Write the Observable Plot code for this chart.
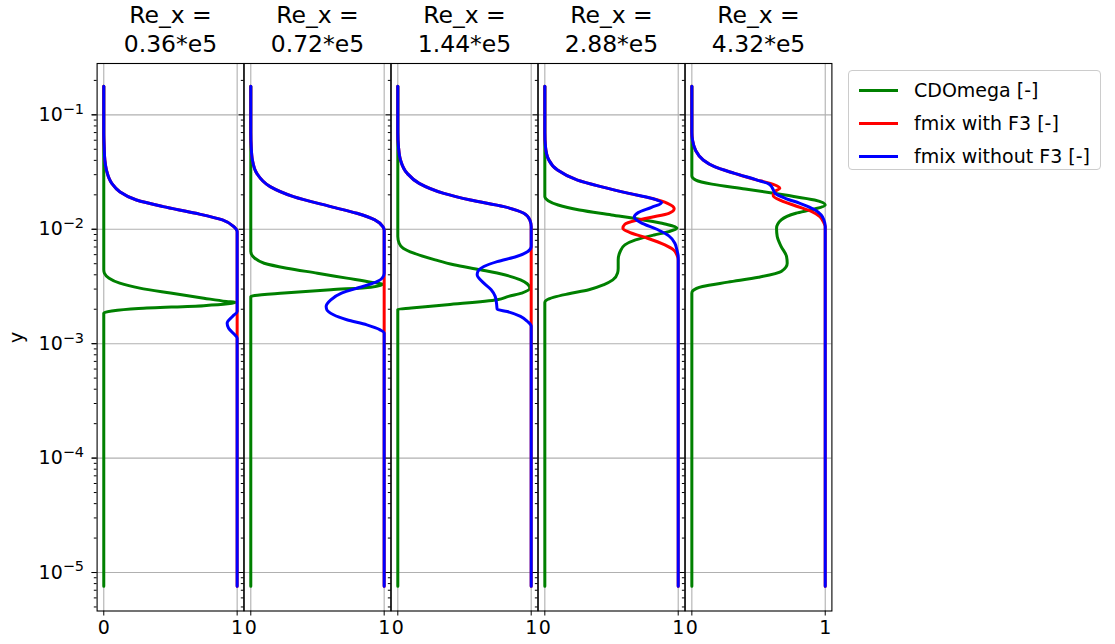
<!DOCTYPE html>
<html><head><meta charset="utf-8">
<script src="https://cdn.jsdelivr.net/npm/d3@7"></script>
<script src="https://cdn.jsdelivr.net/npm/@observablehq/plot@0.6"></script>
<style>
body{margin:0;background:#fff;font-family:"DejaVu Sans",sans-serif;}
#wrap{position:relative;width:1115px;height:644px;overflow:hidden;}
#legend{position:absolute;left:848px;top:70px;width:251px;height:98px;border:1px solid #cccccc;border-radius:4px;background:rgba(255,255,255,0.8);font-size:19px;color:#000;}
.item{position:absolute;left:10px;height:24px;display:flex;align-items:center;white-space:nowrap;}
.swatch{width:39px;height:0;border-top:3px solid;margin-right:16px;}
</style></head><body><div id="wrap"><div id="legend"></div></div>
<script>
// Panels (facets) and series
const panels = ["0.36*e5", "0.72*e5", "1.44*e5", "2.88*e5", "4.32*e5"];
const seriesNames = ["CDOmega [-]", "fmix with F3 [-]", "fmix without F3 [-]"];
const seriesColors = ["green", "red", "blue"];
const xTicks = [0, 1];
const yMajor = [1e-5, 1e-4, 1e-3, 1e-2, 1e-1];
const yMinor = [5e-6, 6e-6, 7e-6, 8e-6, 9e-6,
  2e-5, 3e-5, 4e-5, 5e-5, 6e-5, 7e-5, 8e-5, 9e-5,
  2e-4, 3e-4, 4e-4, 5e-4, 6e-4, 7e-4, 8e-4, 9e-4,
  2e-3, 3e-3, 4e-3, 5e-3, 6e-3, 7e-3, 8e-3, 9e-3,
  2e-2, 3e-2, 4e-2, 5e-2, 6e-2, 7e-2, 8e-2, 9e-2, 2e-1];

// Profiles as [y, value] pairs
// Re_x = 0.36e5
const cd1 = [[0.178,0],[0.00442,0],[0.00413,0.005],[0.00374,0.04],[0.00338,0.12],[0.00306,0.27],[0.00277,0.5],[0.0025,0.75],[0.00234,0.92],[0.00229,0.99],[0.00223,0.93],[0.00215,0.75],[0.00203,0.26],[0.00193,0.06],[0.00185,0],[7.6e-6,0]];
const fw1 = [[0.178,0],[0.07,0],[0.0526,0.003],[0.0403,0.008],[0.0329,0.02],[0.0252,0.06],[0.0213,0.12],[0.018,0.245],[0.01577,0.445],[0.01379,0.69],[0.01206,0.89],[0.01055,0.975],[0.00954,1],[7.6e-6,1]];
const fo1 = [[0.178,0],[0.07,0],[0.0526,0.003],[0.0403,0.008],[0.0329,0.02],[0.0252,0.06],[0.0213,0.12],[0.018,0.245],[0.01577,0.445],[0.01379,0.69],[0.01206,0.89],[0.01055,0.975],[0.00954,1],[0.00191,1],[0.00173,0.965],[0.00151,0.925],[0.00137,0.935],[0.00122,0.975],[0.00112,1],[7.6e-6,1]];
// Re_x = 0.72e5
const cd2 = [[0.178,0],[0.00639,0],[0.00558,0.03],[0.00505,0.1],[0.00457,0.27],[0.00413,0.5],[0.00374,0.72],[0.00345,0.9],[0.0033,0.99],[0.00312,0.9],[0.00296,0.6],[0.00277,0.25],[0.00264,0.03],[0.00259,0],[7.6e-6,0]];
const fw2 = [[0.178,0],[0.07,0],[0.0526,0.003],[0.0403,0.012],[0.0308,0.045],[0.0236,0.145],[0.0193,0.32],[0.01577,0.6],[0.01379,0.795],[0.01206,0.93],[0.01055,0.99],[0.00987,1],[7.6e-6,1]];
const fo2 = [[0.178,0],[0.07,0],[0.0526,0.003],[0.0403,0.012],[0.0308,0.045],[0.0236,0.145],[0.0193,0.32],[0.01577,0.6],[0.01379,0.795],[0.01206,0.93],[0.01055,0.99],[0.00987,1],[0.00413,1],[0.00374,0.985],[0.0035,0.95],[0.00316,0.84],[0.00277,0.68],[0.00242,0.6],[0.00212,0.565],[0.00198,0.57],[0.00179,0.62],[0.00162,0.72],[0.00146,0.87],[0.00132,0.97],[0.00124,1],[7.6e-6,1]];
// Re_x = 1.44e5
const cd3 = [[0.178,0],[0.00863,0],[0.00755,0.01],[0.00683,0.04],[0.00618,0.12],[0.0054,0.28],[0.00489,0.42],[0.00442,0.62],[0.004,0.8],[0.00361,0.92],[0.00334,0.97],[0.00306,0.99],[0.00277,0.93],[0.00259,0.83],[0.00242,0.745],[0.00219,0.37],[0.00205,0.1],[0.002,0],[7.6e-6,0]];
const fw3 = [[0.178,0],[0.07,0],[0.0526,0.005],[0.0403,0.02],[0.0308,0.07],[0.0252,0.16],[0.0206,0.345],[0.018,0.545],[0.01577,0.795],[0.01379,0.945],[0.01206,0.99],[0.01055,1],[7.6e-6,1]];
const fo3 = [[0.178,0],[0.07,0],[0.0526,0.005],[0.0403,0.02],[0.0308,0.07],[0.0252,0.16],[0.0206,0.345],[0.018,0.545],[0.01577,0.795],[0.01379,0.945],[0.01206,0.99],[0.01055,1],[0.00706,1],[0.00639,0.975],[0.00578,0.89],[0.00522,0.745],[0.00473,0.645],[0.00427,0.6],[0.004,0.595],[0.00338,0.645],[0.00296,0.7],[0.00259,0.73],[0.00226,0.74],[0.002,0.745],[0.00191,0.82],[0.00173,0.92],[0.00157,0.97],[0.00142,1],[7.6e-6,1]];
// Re_x = 2.88e5
const cd4 = [[0.178,0],[0.0193,0],[0.01778,0.025],[0.0163,0.1],[0.01475,0.26],[0.01334,0.5],[0.01206,0.74],[0.01113,0.9],[0.0102,0.99],[0.00954,0.93],[0.00892,0.82],[0.00807,0.68],[0.0073,0.6],[0.00639,0.565],[0.0054,0.55],[0.00457,0.55],[0.00413,0.545],[0.00361,0.51],[0.00327,0.44],[0.00296,0.33],[0.00273,0.18],[0.00255,0.07],[0.00239,0.01],[0.00229,0],[7.6e-6,0]];
const fw4 = [[0.178,0],[0.07,0],[0.0526,0.005],[0.0403,0.03],[0.0329,0.095],[0.0269,0.245],[0.0236,0.42],[0.0206,0.63],[0.01864,0.8],[0.01686,0.92],[0.01514,0.97],[0.01379,0.93],[0.01274,0.8],[0.01191,0.68],[0.01105,0.6],[0.0102,0.585],[0.00935,0.64],[0.00835,0.77],[0.0073,0.9],[0.00661,0.965],[0.00597,0.99],[0.0054,1],[7.6e-6,1]];
const fo4 = [[0.178,0],[0.07,0],[0.0526,0.005],[0.0403,0.03],[0.0329,0.095],[0.0269,0.245],[0.0236,0.42],[0.0206,0.63],[0.01864,0.8],[0.01708,0.875],[0.01556,0.8],[0.01397,0.7],[0.01274,0.67],[0.01143,0.72],[0.01,0.84],[0.00875,0.93],[0.00755,0.975],[0.00661,0.99],[0.00578,1],[7.6e-6,1]];
// Re_x = 4.32e5
const cd5 = [[0.178,0],[0.0292,0],[0.0269,0.03],[0.0248,0.15],[0.0225,0.4],[0.0199,0.7],[0.018,0.92],[0.0163,1.0],[0.01494,0.91],[0.01379,0.78],[0.01206,0.67],[0.0102,0.635],[0.00863,0.64],[0.00706,0.67],[0.00578,0.71],[0.00505,0.715],[0.00427,0.67],[0.00381,0.5],[0.00345,0.27],[0.00316,0.08],[0.00292,0.01],[0.00277,0],[7.6e-6,0]];
const fw5 = [[0.178,0],[0.07,0],[0.0601,0.005],[0.0492,0.027],[0.0403,0.085],[0.0352,0.17],[0.0308,0.32],[0.0269,0.49],[0.0257,0.56],[0.0239,0.64],[0.0228,0.66],[0.0213,0.62],[0.01966,0.61],[0.01778,0.67],[0.01598,0.78],[0.01426,0.9],[0.0129,0.96],[0.01166,0.985],[0.01055,1],[7.6e-6,1]];
const fo5 = [[0.178,0],[0.07,0],[0.0601,0.005],[0.0492,0.027],[0.0403,0.085],[0.0352,0.17],[0.0308,0.32],[0.0269,0.49],[0.0248,0.58],[0.0228,0.605],[0.0206,0.625],[0.01864,0.7],[0.01686,0.81],[0.01475,0.925],[0.01334,0.97],[0.01206,0.99],[0.01055,1],[7.6e-6,1]];

const cdomega = [cd1, cd2, cd3, cd4, cd5];
const fmixWith = [fw1, fw2, fw3, fw4, fw5];
const fmixWithout = [fo1, fo2, fo3, fo4, fo5];
const seriesData = [cdomega, fmixWith, fmixWithout];

function rowsOf(series) {
  return panels.flatMap((p, i) => series[i].map(([y, x]) => ({panel: p, y, x})));
}

const lineMarks = seriesData.map((s, k) =>
  Plot.line(rowsOf(s), {x: "x", y: "y", fx: "panel", stroke: seriesColors[k], strokeWidth: 3, curve: "monotone-y"})
);

const chart = Plot.plot({
  width: 1115, height: 644,
  marginTop: 63, marginBottom: 33.5, marginLeft: 96.6, marginRight: 283.6,
  style: {fontFamily: "'DejaVu Sans', sans-serif", color: "black", background: "white", overflow: "visible"},
  fx: {domain: panels, padding: 0.002, round: false, axis: null, label: null},
  x: {domain: [-0.05, 1.05], axis: null},
  y: {type: "log", domain: [4.61e-6, 0.281], axis: null},
  marks: [
    Plot.gridY(yMajor, {stroke: "#b0b0b0", strokeOpacity: 1, strokeWidth: 1.1}),
    Plot.gridX(xTicks, {stroke: "#b0b0b0", strokeOpacity: 1, strokeWidth: 1.1}),
    ...lineMarks,
    Plot.frame({stroke: "black", strokeWidth: 1.1}),
    Plot.axisY(yMajor, {tickSize: 5, tickPadding: 8, tickFormat: d => "10^" + Math.round(Math.log10(d)), label: "y", labelAnchor: "center", labelArrow: "none", labelOffset: 88}),
    Plot.axisY(yMajor, {tickSize: 5, tickFormat: () => "", facetAnchor: null, label: null}),
    Plot.axisY(yMinor, {tickSize: 2.8, tickFormat: () => "", facetAnchor: null, label: null}),
    Plot.axisX(xTicks, {tickSize: 5, tickPadding: 4, tickFormat: d => String(d), label: null, facetAnchor: null}),
    Plot.text(panels, {fx: d => d, text: d => "Re_x =\n" + d, frameAnchor: "top", lineAnchor: "bottom", dy: -11.6, fontSize: 23.5, lineHeight: 1.22})
  ]
});

const wrap = document.getElementById("wrap");
wrap.insertBefore(chart, wrap.firstChild);

// axis text: size, mathtext-like superscripts on log labels
d3.select(chart).selectAll("text").each(function() {
  const s = this.textContent;
  if (s.includes("Re_x")) return;
  this.setAttribute("font-size", "19");
  this.style.fontSize = "19px";
  if (!/^10\^-?\d+$/.test(s)) return;
  const [base, exp] = s.split("^");
  const t = d3.select(this);
  t.text(null);
  t.append("tspan").text(base);
  t.append("tspan").attr("dy", "-0.5em").style("font-size", "14.5px").text(exp.replace("-", "\u2212"));
});

// Legend
const legend = document.getElementById("legend");
const rowCenters = [19, 52, 85];
seriesNames.forEach((name, k) => {
  const item = document.createElement("div");
  item.className = "item";
  item.style.top = (rowCenters[k] - 12) + "px";
  const sw = document.createElement("span");
  sw.className = "swatch";
  sw.style.borderTopColor = seriesColors[k];
  const tx = document.createElement("span");
  tx.textContent = name;
  item.appendChild(sw); item.appendChild(tx);
  legend.appendChild(item);
});
</script>
</body></html>
